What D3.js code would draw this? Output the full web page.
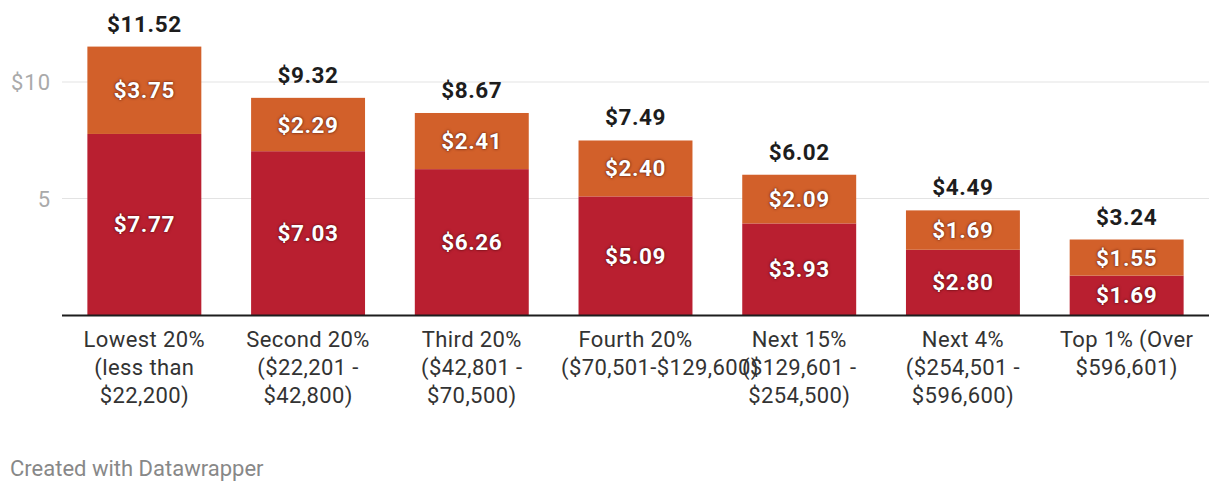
<!DOCTYPE html>
<html>
<head>
<meta charset="utf-8">
<script src="https://cdn.jsdelivr.net/npm/d3@7"></script>
<style>
  html, body { margin: 0; padding: 0; background: #fff; }
  svg { display: block; font-family: Roboto, "Noto Sans", sans-serif; }
  .seg-label { fill: #fff; font-weight: 700; font-size: 22.5px; letter-spacing: 0.6px; text-anchor: middle;
    text-shadow: 0 0 3px rgba(60,10,10,0.75), 0 0 1px rgba(60,10,10,0.6); }
  .tot-label { fill: #1d1d1d; font-weight: 700; font-size: 22.5px; letter-spacing: 0.6px; text-anchor: middle; }
  .xlab { fill: #333; font-size: 22px; letter-spacing: 0.4px; }
  .ytick { fill: #aaa; font-size: 22px; letter-spacing: 1px; text-anchor: end; }
  .credit { fill: #888; font-size: 22px; }
</style>
</head>
<body>
<svg id="chart" width="1220" height="492"></svg>
<script>
const categories = [
  ["Lowest 20%", "(less than", "$22,200)"],
  ["Second 20%", "($22,201 -", "$42,800)"],
  ["Third 20%", "($42,801 -", "$70,500)"],
  ["Fourth 20%", "($70,501-$129,600)"],
  ["Next 15%", "($129,601 -", "$254,500)"],
  ["Next 4%", "($254,501 -", "$596,600)"],
  ["Top 1% (Over", "$596,601)"]
];
const bottomValues = [7.77, 7.03, 6.26, 5.09, 3.93, 2.80, 1.69];
const topValues    = [3.75, 2.29, 2.41, 2.40, 2.09, 1.69, 1.55];
const totals       = [11.52, 9.32, 8.67, 7.49, 6.02, 4.49, 3.24];
const yTicks = [5, 10];
const yTickLabels = ["5", "$10"];
const credit = "Created with Datawrapper";

const svg = d3.select("#chart");
const keys = categories.map((c, i) => i);

const x = d3.scaleBand().domain(keys).range([62, 1209]).paddingInner(0.304).paddingOuter(0.155);
const y = d3.scaleLinear().domain([0, 10]).range([315, 82]);

// gridlines
svg.append("g").selectAll("line").data(yTicks).join("line")
  .attr("x1", 62).attr("x2", 1209)
  .attr("y1", d => y(d)).attr("y2", d => y(d))
  .attr("stroke", "#e3e3e3").attr("stroke-width", 1);
svg.append("g").selectAll("text").data(yTicks).join("text")
  .attr("class", "ytick")
  .attr("x", 51).attr("y", d => y(d) + 8)
  .text((d, i) => yTickLabels[i]);

const data = keys.map(i => ({ i, b: bottomValues[i], t: topValues[i], tot: totals[i] }));

// bars
svg.append("g").selectAll("rect").data(data).join("rect")
  .attr("x", d => x(d.i)).attr("width", x.bandwidth())
  .attr("y", d => y(d.b)).attr("height", d => y(0) - y(d.b))
  .attr("fill", "#b91f30");
svg.append("g").selectAll("rect").data(data).join("rect")
  .attr("x", d => x(d.i)).attr("width", x.bandwidth())
  .attr("y", d => y(d.b + d.t)).attr("height", d => y(d.b) - y(d.b + d.t))
  .attr("fill", "#d2602a");

// baseline
svg.append("line").attr("x1", 62).attr("x2", 1209)
  .attr("y1", y(0) + 0.5).attr("y2", y(0) + 0.5)
  .attr("stroke", "#1d1d1d").attr("stroke-width", 2);

const cx = d => x(d.i) + x.bandwidth() / 2;

// segment labels
svg.append("g").selectAll("text").data(data).join("text")
  .attr("class", "seg-label")
  .attr("x", cx).attr("y", d => (y(0) + y(d.b)) / 2 + 8)
  .text(d => "$" + d.b.toFixed(2));
svg.append("g").selectAll("text").data(data).join("text")
  .attr("class", "seg-label")
  .attr("x", cx).attr("y", d => (y(d.b) + y(d.b + d.t)) / 2 + 8)
  .text(d => "$" + d.t.toFixed(2));

// totals
svg.append("g").selectAll("text").data(data).join("text")
  .attr("class", "tot-label")
  .attr("x", cx).attr("y", d => y(d.b + d.t) - 15)
  .text(d => "$" + d.tot.toFixed(2));

// x labels: centred in a fixed-width box; over-wide lines start at the box's left edge
const boxW = 149;
const xg = svg.append("g");
data.forEach(d => {
  categories[d.i].forEach((s, j) => {
    const t = xg.append("text").attr("class", "xlab")
      .attr("y", 347 + j * 28).attr("x", cx(d)).attr("text-anchor", "middle").text(s);
    const w = t.node().getComputedTextLength();
    if (w > boxW) t.attr("text-anchor", "start").attr("x", cx(d) - boxW / 2);
  });
});

svg.append("text").attr("class", "credit").attr("x", 10).attr("y", 476).text(credit);
</script>
</body>
</html>
